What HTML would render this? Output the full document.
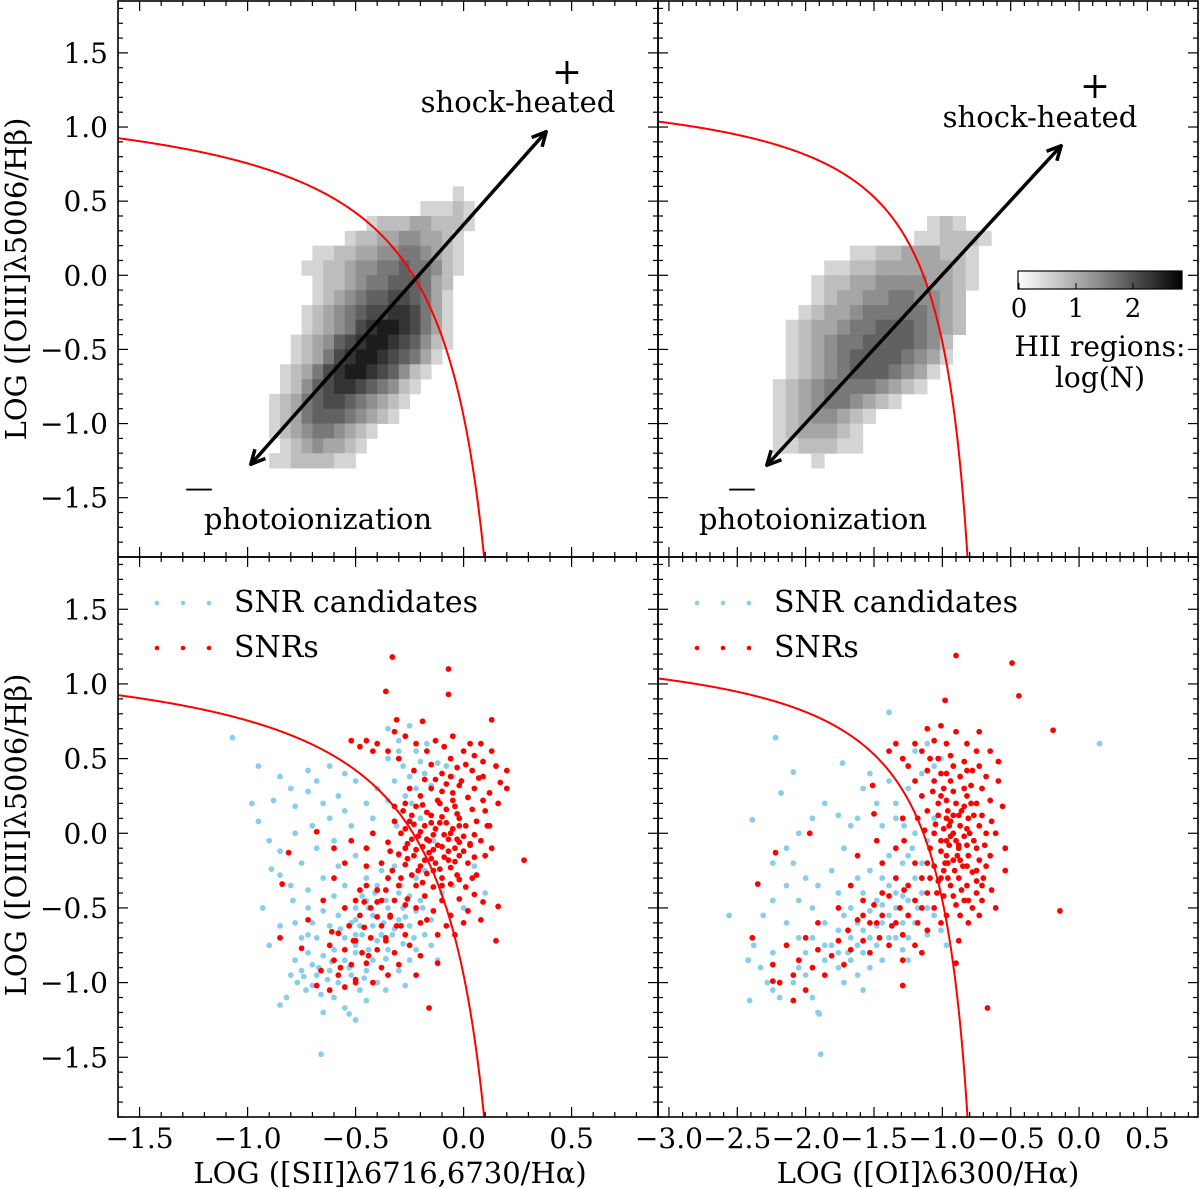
<!DOCTYPE html>
<html><head><meta charset="utf-8">
<style>
html,body{margin:0;padding:0;background:#fff;}
svg{display:block;font-family:"DejaVu Serif","Liberation Serif",serif;}
</style></head>
<body>
<svg id="fig" width="1200" height="1189" viewBox="0 0 1200 1189" xmlns="http://www.w3.org/2000/svg"></svg>
<script>
// ---- data ----
const yMajorTicks = [-1.5,-1.0,-0.5,0.0,0.5,1.0,1.5];
const xMajorS = [-1.5,-1.0,-0.5,0.0,0.5];
const xMajorO = [-3.0,-2.5,-2.0,-1.5,-1.0,-0.5,0.0,0.5];
// HII region 2D histogram (intensity 0-9), rows top->bottom
const hiiS = [
"0000000000000000010",
"0000000000000011121",
"0000000001222332221",
"0000000122334433210",
"0000112233445543210",
"0001122344556554210",
"0000122345566653200",
"0000123456677653100",
"0001234567788753100",
"0001234578998753100",
"0012346789987642100",
"0012357899876531000",
"0123578998764210000",
"0124678876542100000",
"1235677654321000000",
"1235666543210000000",
"1234554321000000000",
"0123433210000000000",
"1122221100000000000"];
const hiiSBins = {x0:-0.9, dx:0.05, yTop:0.6, dy:0.1};
const hiiO = [
"00000000000012100",
"00000000000112221",
"00000011223332210",
"00001122333333210",
"00012233444433210",
"00012334455443200",
"00123345555543200",
"01233455666543200",
"01234556666542000",
"01234566665431000",
"01234566654310000",
"12345555432100000",
"12345543210000000",
"12344321000000000",
"12333210000000000",
"11222110000000000",
"00010000000000000"];
const hiiOBins = {x0:-2.24, dx:0.094, yTop:0.4, dy:0.1};

const candS = [[-0.78,-0.85],[-0.75,-0.92],[-0.72,-0.8],[-0.7,-0.88],[-0.68,-0.95],[-0.8,-0.95],[-0.77,-1.0],[-0.73,-1.05],[-0.66,-1.08],[-0.6,-1.1],[-0.58,-1.0],[-0.62,-0.92],[-0.65,-0.82],[-0.6,-0.78],[-0.55,-0.85],[-0.52,-0.95],[-0.48,-1.05],[-0.45,-0.92],[-0.42,-0.85],[-0.5,-0.75],[-0.55,-0.7],[-0.47,-0.68],[-0.4,-0.72],[-0.35,-0.78],[-0.33,-0.68],[-0.42,-0.62],[-0.37,-0.6],[-0.3,-0.58],[-0.28,-0.5],[-0.35,-0.5],[-0.25,-0.42],[-0.2,-0.45],[-0.3,-0.4],[-0.22,-0.52],[-0.15,-0.58],[-0.18,-0.68],[-0.25,-0.62],[-0.28,-0.74],[-0.62,-0.62],[-0.68,-0.7],[-0.72,-0.68],[-0.82,-1.1],[-0.85,-1.15],[-0.65,-1.2],[-0.55,-1.17],[-0.45,-1.12],[-0.5,-1.25],[-0.66,-1.48],[-0.9,-0.75],[-0.85,-0.62],[-0.78,-0.6],[-0.3,-0.92],[-0.4,-1.0],[-0.25,-0.85],[-0.12,-0.85],[-0.22,-0.78],
[-0.45,-0.45],[-0.5,-0.5],[-0.42,-0.55],[-0.52,-0.6],[-0.47,-0.42],[-0.4,-0.35],[-0.35,-0.3],[-0.32,-0.22],[-0.3,-0.15],[-0.38,-0.25],[-0.45,-0.3],[-0.55,-0.35],[-0.6,-0.42],[-0.65,-0.52],[-0.58,-0.55],[-0.7,-0.6],[-0.75,-0.7],[-0.48,-0.62],[-0.38,-0.68],
[-0.95,0.45],[-0.85,0.38],[-0.8,0.3],[-0.88,0.22],[-0.78,0.18],[-0.72,0.28],[-0.68,0.35],[-0.65,0.2],[-0.62,0.1],[-0.7,0.05],[-0.78,0.0],[-0.9,-0.05],[-0.85,-0.12],[-0.75,-0.2],[-0.68,-0.1],[-0.6,-0.05],[-0.58,0.25],[-0.55,0.15],[-0.52,0.05],[-0.5,-0.15],[-0.45,0.2],[-0.4,0.3],[-0.42,0.1],[-0.35,0.22],[-0.5,0.35],[-0.55,0.4],[-0.62,0.45],[-0.72,0.42],[-0.98,0.2],[-0.95,0.08],[-0.89,-0.24],[-0.85,-0.28],[-0.8,-0.35],[-0.72,-0.38],[-0.65,-0.3],[-0.58,-0.22],
[-0.3,0.55],[-0.35,0.5],[-0.28,0.45],[-0.25,0.38],[-0.32,0.35],[-0.22,0.55],[-0.2,0.48],[-0.18,0.4],[-0.27,0.25],[-0.22,0.3],[-0.15,0.32],[-0.12,0.47],[-0.35,0.7],[-0.3,0.62],[-0.25,0.72],[-0.08,0.45],[-0.05,0.38],[-0.28,0.15],[-0.2,0.1],[-0.14,-0.05],[-0.18,-0.25],[-0.05,-0.35],[0.05,-0.22],[0.1,-0.4],[0.0,-0.5],[-0.1,-0.4],[-1.07,0.64],[-0.53,-1.21],
[-0.5,-0.8],[-0.44,-0.78],[-0.36,-0.84],[-0.53,-0.9],[-0.63,-0.98],[-0.7,-1.02],[-0.57,-0.64],[-0.5,-0.58],[-0.44,-0.5],[-0.36,-0.45],[-0.29,-0.35],[-0.32,-0.64],[-0.27,-0.56],[-0.19,-0.5],[-0.23,-0.7],[-0.15,-0.75],[-0.41,-0.4],[-0.5,-0.68],[-0.61,-0.86],[-0.67,-0.9],[-0.74,-0.96],[-0.46,-0.97],[-0.36,-1.05],[-0.27,-1.02],[-0.31,0.05],[-0.24,0.2],[-0.17,0.6],[-0.27,-0.1],[-0.22,-0.3],[-0.72,-0.5],[-0.79,-0.45],[-0.93,-0.5]];
const snrS = [[-0.28,0.15],[-0.22,0.18],[-0.15,0.12],[-0.08,0.16],[-0.02,0.10],[-0.25,0.08],[-0.18,0.05],[-0.11,0.07],[-0.05,0.03],[0.01,0.05],[-0.29,0.0],[-0.21,-0.02],[-0.14,-0.01],[-0.07,-0.04],[0.0,-0.02],[-0.26,-0.07],[-0.19,-0.09],[-0.12,-0.08],[-0.04,-0.10],[0.03,-0.07],[-0.3,-0.14],[-0.23,-0.15],[-0.16,-0.13],[-0.09,-0.16],[-0.02,-0.15],[-0.27,-0.21],[-0.2,-0.22],[-0.13,-0.2],[-0.06,-0.23],[0.02,-0.2],[-0.24,-0.28],[-0.17,-0.27],[-0.1,-0.3],[-0.03,-0.28],[-0.33,-0.25],[-0.35,-0.06],[-0.32,0.08],
[-0.24,0.12],[-0.17,0.14],[-0.1,0.11],[-0.03,0.13],[-0.27,0.03],[-0.2,0.01],[-0.13,0.03],[-0.06,0.0],[-0.24,-0.04],[-0.16,-0.05],[-0.09,-0.01],[-0.02,-0.06],[-0.22,-0.11],[-0.14,-0.11],[-0.07,-0.12],[0.0,-0.12],[-0.26,-0.17],[-0.18,-0.18],[-0.11,-0.24],[-0.04,-0.19],[-0.21,-0.25],[-0.14,-0.25],
[-0.2,0.25],[-0.12,0.22],[-0.05,0.27],[0.02,0.24],[-0.15,0.3],[-0.08,0.33],[-0.01,0.35],[0.05,0.3],[-0.1,0.4],[-0.03,0.44],[0.04,0.42],[0.07,0.37],[-0.18,0.36],[-0.25,0.3],[0.0,0.55],[-0.06,0.5],[0.05,0.52],[0.08,0.6],[0.09,0.48],[0.12,0.27],[0.1,0.15],[0.12,0.05],[0.08,-0.05],[0.1,-0.15],[0.06,-0.28],[0.13,-0.1],[0.16,0.2],[0.17,0.34],[0.15,0.45],[0.03,0.6],[-0.09,0.58],
[-0.3,0.5],[-0.35,0.55],[-0.42,0.55],[-0.48,0.58],[-0.52,0.62],[-0.22,0.6],[-0.27,0.65],[-0.32,0.68],[-0.4,0.6],[-0.17,0.55],[-0.13,0.62],[-0.05,0.65],[-0.19,0.75],[-0.31,0.76],[-0.07,0.93],[-0.36,0.95],[-0.07,1.1],[-0.33,1.18],[0.13,0.76],[-0.45,0.62],[0.13,0.55],[0.2,0.42],[0.2,0.3],
[0.28,-0.18],[0.16,-0.49],[0.15,-0.72],[-0.12,-0.87],[-0.16,-1.17],
[-0.3,-0.35],[-0.22,-0.35],[-0.14,-0.36],[-0.06,-0.34],[0.01,-0.36],[-0.18,-0.42],[-0.1,-0.45],[-0.02,-0.44],[0.05,-0.41],[-0.26,-0.44],[-0.14,-0.52],[-0.06,-0.55],[0.02,-0.52],[0.09,-0.46],[-0.22,-0.5],[-0.32,-0.45],[-0.08,-0.62],[0.0,-0.6],[0.08,-0.58],
[-0.35,-0.3],[-0.4,-0.38],[-0.45,-0.35],[-0.38,-0.45],[-0.43,-0.5],[-0.5,-0.45],[-0.48,-0.55],[-0.4,-0.56],[-0.34,-0.55],[-0.55,-0.5],[-0.53,-0.62],[-0.46,-0.63],[-0.38,-0.62],[-0.31,-0.62],[-0.58,-0.67],[-0.5,-0.72],[-0.43,-0.7],[-0.36,-0.72],[-0.27,-0.68],[-0.62,-0.75],[-0.55,-0.78],[-0.47,-0.8],[-0.4,-0.78],[-0.32,-0.8],[-0.25,-0.75],[-0.6,-0.85],[-0.52,-0.88],[-0.45,-0.87],[-0.38,-0.9],[-0.3,-0.88],[-0.66,-0.92],[-0.58,-0.95],[-0.5,-0.98],[-0.42,-1.0],[-0.68,-1.02],[-0.62,-1.05],[-0.55,-1.03],[-0.35,-0.95],[-0.2,-0.82],[-0.22,-0.95],[-0.55,-0.2],[-0.6,-0.3],[-0.65,-0.45],[-0.72,-0.58],[-0.6,-0.1],[-0.52,-0.05],[-0.45,-0.1],[-0.42,0.0],[-0.38,-0.2],[-0.45,-0.22],[-0.75,-0.77],[-0.27,-0.48],[-0.2,-0.6],[-0.12,-0.68],[-0.48,-0.38],[-0.85,-0.7],[-0.84,-0.34],[-0.81,-0.13],[-0.68,0.01],
[-0.27,0.2],[-0.19,0.19],[-0.11,0.2],[-0.04,0.18],[0.04,0.16],[-0.23,0.06],[-0.15,0.07],[-0.08,0.07],[-0.02,0.05],[0.06,0.08],[-0.27,-0.1],[-0.17,-0.04],[-0.1,-0.09],[-0.03,-0.04],[0.05,-0.01],[-0.29,-0.3],[-0.19,-0.33],[-0.1,-0.35],[-0.02,-0.31],[0.04,-0.3],[-0.15,-0.17],[-0.07,-0.18],[0.05,-0.16],[-0.23,0.42],[-0.15,0.46],[-0.06,0.38],[0.01,0.46],[0.09,0.38],[-0.1,0.28],[-0.02,0.32],[-0.32,0.18],[-0.34,-0.12],[-0.36,-0.38],[-0.4,-0.46],[-0.34,-0.56],[-0.29,-0.62],[-0.46,-0.46],[-0.51,-0.72],[-0.44,-0.82],[-0.36,-0.7],[-0.57,-0.9],[-0.5,-1.0],[-0.61,-0.66],[-0.17,-0.58],[-0.04,-0.68],[0.03,-0.08],[-0.05,0.22],[-0.13,0.36],[0.09,0.22],[0.11,0.05]];
const candO = [[-1.11,-0.5],[-1.15,-0.4],[-1.20,-0.3],[-1.25,-0.45],[-1.29,-0.6],[-1.34,-0.5],[-1.39,-0.35],[-1.44,-0.48],[-1.48,-0.62],[-1.53,-0.52],[-1.58,-0.4],[-1.62,-0.6],[-1.67,-0.7],[-1.72,-0.55],[-1.76,-0.65],[-1.81,-0.75],[-1.58,-0.8],[-1.48,-0.75],[-1.39,-0.7],[-1.29,-0.78],[-1.67,-0.85],[-1.76,-0.9],[-1.86,-0.85],[-1.62,-0.95],[-1.53,-0.9],[-1.20,-0.6],[-1.11,-0.68],[-1.06,-0.55],[-1.25,-0.15],[-1.15,-0.2],[-1.11,-0.05],[-1.06,0.1],[-1.20,0.0],[-1.29,-0.2],[-1.39,-0.15],[-2.05,-0.7],[-2.14,-0.6],[-2.24,-0.8],[-2.33,-0.9],[-2.28,-1.0],[-2.19,-1.1],[-2.09,-1.0],[-2.0,-0.95],[-1.95,-1.1],[-1.91,-1.2],[-2.42,-0.85],[-2.38,-0.75],[-2.31,-0.55],[-2.24,-0.45],[-2.14,-0.35],[-2.05,-0.45],[-1.95,-0.5],[-1.91,-0.35],[-1.81,-0.25],[-1.72,-0.1],[-1.67,0.05],[-1.76,0.12],[-1.86,0.2],[-1.95,0.1],[-2.05,0.0],[-2.14,-0.1],[-2.24,-0.2],[-2.39,0.09],[-2.56,-0.55],[-2.41,-1.12],[-1.89,-1.48],[-1.90,-1.21],[-2.18,0.27],[-2.22,0.64],[-2.09,0.41],[-1.73,0.47],[-1.39,0.81],[-1.58,0.3],[-1.48,0.2],[-1.39,0.35],[-1.53,0.4],[-1.62,0.1],[-1.44,0.05],[-1.34,0.2],[-1.25,0.3],[-1.15,0.4],[-1.29,0.5],[-1.20,0.55],[-1.11,0.6],[-1.01,0.5],[-1.06,0.45],[-1.34,0.1],[-1.53,-0.25],[-1.62,-0.3],[-1.44,-0.3],[0.15,0.6],[-2.24,-1.05],[-1.72,-1.0],[-1.58,-1.05],[-2.0,-0.8],[-2.09,-0.2],[-2.0,-0.3],[-1.34,-0.4],[-1.44,-0.6],[-1.53,-0.7],[-1.67,-0.5],[-1.76,-0.4],[-1.86,-0.6],[-1.95,-0.7],[-1.25,-0.7],[-1.15,-0.8],[-1.01,-0.65],[-0.97,-0.75],
[-1.34,-0.7],[-1.44,-0.85],[-1.25,-0.85],[-1.58,-0.65],[-1.69,-0.8],[-1.48,-0.45],[-1.29,-0.42],[-1.18,-0.5],[-1.39,-0.55],[-1.62,-0.75],[-1.76,-0.8],[-1.86,-0.75],[-2.05,-0.9],[-1.22,-0.1],[-1.28,0.05]];
const snrO = [[-1.06,0.35],[-0.97,0.4],[-0.87,0.38],[-0.78,0.42],[-0.71,0.3],[-1.01,0.25],[-0.92,0.28],[-0.82,0.25],[-0.75,0.2],[-0.65,0.22],[-1.11,0.15],[-1.03,0.12],[-0.96,0.15],[-0.88,0.12],[-0.81,0.1],[-0.73,0.05],[-0.64,0.08],[-1.13,0.02],[-1.06,0.0],[-0.99,0.03],[-0.92,0.0],[-0.84,-0.02],[-0.77,-0.05],[-0.69,-0.08],[-1.09,-0.1],[-1.01,-0.12],[-0.95,-0.08],[-0.88,-0.1],[-0.81,-0.15],[-0.73,-0.18],[-0.65,-0.15],[-1.06,-0.22],[-0.98,-0.2],[-0.92,-0.18],[-0.85,-0.22],[-0.78,-0.26],[-0.70,-0.3],[-1.03,-0.32],[-0.96,-0.3],[-0.88,-0.3],[-0.82,-0.35],[-0.75,-0.4],[-0.99,-0.42],[-0.92,-0.42],[-0.84,-0.45],[-0.78,-0.5],[-0.71,-0.45],[-0.97,-0.05],[-0.90,-0.05],[-0.94,0.08],[-0.87,0.05],[-0.97,-0.15],[-0.91,-0.25],[-0.84,0.18],[-0.90,0.2],[-0.99,0.3],[-0.79,0.32],[-0.84,0.48],[-0.94,0.52],[-1.03,0.5],[-0.75,0.55],[-0.71,0.12],[-0.68,-0.22],[-0.64,-0.38],[-0.61,0.0],[-0.59,0.35],[-0.56,0.18],[-0.54,-0.1],[-0.54,-0.25],[-0.61,-0.5],[-0.73,-0.55],[-0.87,-0.55],[-0.97,-0.55],[-1.06,-0.5],[-1.11,-0.4],[-1.15,-0.3],[-1.20,-0.2],[-1.18,0.1],[-1.15,0.25],[-1.11,0.42],[-1.20,0.35],[-1.25,0.45],[-1.29,0.5],[-1.15,0.55],[-1.06,0.62],[-0.97,0.6],[-0.82,0.6],[-0.65,0.55],[-0.59,0.48],[-0.73,0.68],[-0.90,0.68],[-1.01,0.72],[-1.11,0.7],[-1.20,0.6],[-1.34,0.6],[-1.39,0.55],[-1.28,-0.05],[-1.29,0.1],[-0.90,1.19],[-0.49,1.14],[-0.44,0.92],[-0.98,0.89],[-0.19,0.69],[-0.14,-0.52],[-0.67,-1.17],[-0.90,-0.87],[-0.88,-0.72],[-1.29,-1.02],[-1.20,-0.45],[-1.28,-0.38],[-1.34,-0.3],[-1.39,-0.42],[-1.31,-0.5],[-1.25,-0.55],[-1.18,-0.6],[-1.44,-0.55],[-1.50,-0.48],[-1.58,-0.45],[-1.37,-0.62],[-1.29,-0.68],[-1.53,-0.6],[-1.62,-0.58],[-1.46,-0.7],[-1.39,-0.75],[-1.69,-0.65],[-1.58,-0.72],[-1.67,-0.78],[-1.76,-0.72],[-1.53,-0.8],[-1.81,-0.82],[-1.91,-0.78],[-1.72,-0.88],[-1.95,-0.9],[-2.05,-0.85],[-1.86,-0.95],[-2.09,-0.95],[-2.19,-1.0],[-2.24,-0.88],[-2.0,-1.05],[-2.14,-0.75],[-2.35,-0.34],[-2.39,-0.7],[-2.22,-0.13],[-1.97,0.0],[-1.50,0.13],[-1.51,0.32],[-1.67,-0.35],[-1.76,-0.5],[-1.44,-0.2],[-1.34,-0.1],[-1.48,-0.05],[-1.62,-0.15],[-1.91,-0.6],[-2.0,-0.7],[-2.24,-0.99],[-2.09,-1.12],[-1.29,-0.85],[-1.20,-0.75],[-1.11,-0.65],[-1.15,-0.8],[-1.01,-0.3],[-0.82,-0.08],[-0.75,-0.32],[-0.95,0.05],[-0.87,-0.18],[-0.80,0.0],[-1.03,0.2],[-0.68,0.38],
[-0.94,-0.02],[-0.88,-0.08],[-0.82,0.03],[-0.97,0.1],[-0.92,0.12],[-0.86,0.15],[-0.79,0.2],[-1.01,-0.05],[-0.96,-0.2],[-0.89,-0.15],[-0.82,-0.22],[-0.75,-0.1],[-1.05,0.06],[-0.99,-0.25],[-0.94,-0.35],[-0.86,-0.38],[-0.81,-0.45],[-1.01,0.4],[-0.92,0.45],[-0.82,0.42],[-0.73,0.45],[-0.68,0.0],[-0.77,0.12],[-1.07,0.28],[-0.94,0.35],[-1.09,-0.3],[-1.04,-0.4],[-0.90,-0.48],[-0.81,-0.6],[-1.01,-0.6],[-0.75,-0.25],[-0.84,0.3],[-1.09,0.5],[-0.97,0.22],[-0.71,-0.35],[-1.11,-0.2],[-1.25,-0.35],[-1.15,-0.5],[-1.34,-0.6],[-1.48,-0.6],[-1.44,-0.4],[-1.58,-0.55]];

// ---- layout ----
const NS = "http://www.w3.org/2000/svg";
const svg = document.getElementById('fig');
function el(tag, attrs, parent){const e=document.createElementNS(NS,tag);for(const k in attrs)e.setAttribute(k,attrs[k]);(parent||svg).appendChild(e);return e;}
const panels = {
  tl:{x0:118,x1:658,y0:1,y1:557,xmin:-1.6,xmax:0.9,ymin:-1.9,ymax:1.85,name:'top-left-panel'},
  tr:{x0:658,x1:1198,y0:1,y1:557,xmin:-3.08,xmax:0.87,ymin:-1.9,ymax:1.85,name:'top-right-panel'},
  bl:{x0:118,x1:658,y0:557,y1:1117,xmin:-1.6,xmax:0.9,ymin:-1.9,ymax:1.85,name:'bottom-left-panel'},
  br:{x0:658,x1:1198,y0:557,y1:1117,xmin:-3.08,xmax:0.87,ymin:-1.9,ymax:1.85,name:'bottom-right-panel'}
};
function sx(p,x){return p.x0+(x-p.xmin)/(p.xmax-p.xmin)*(p.x1-p.x0);}
function sy(p,y){return p.y1-(y-p.ymin)/(p.ymax-p.ymin)*(p.y1-p.y0);}
const fmt = v => (v<0?'\u2212':'')+Math.abs(v).toFixed(1);

const defs = el('defs',{});
for (const k in panels){
  const p=panels[k];
  const cp=el('clipPath',{id:'clip-'+k},defs);
  el('rect',{x:p.x0,y:p.y0,width:p.x1-p.x0,height:p.y1-p.y0},cp);
}
const grad = el('linearGradient',{id:'cbgrad',x1:'0',x2:'1',y1:'0',y2:'0'},defs);
el('stop',{offset:'0',"stop-color":'#ffffff'},grad);
el('stop',{offset:'0.5',"stop-color":'#8a8a8a'},grad);
el('stop',{offset:'1',"stop-color":'#000000'},grad);

function kewS(x){return 0.72/(x-0.32)+1.30;}
function kewO(x){return 0.73/(x+0.59)+1.33;}

function drawHist(p, grid, bins, g){
  grid.forEach((row,j)=>{
    for(let i=0;i<row.length;i++){
      const L=+row[i]; if(!L) continue;
      const xa=bins.x0+i*bins.dx, xb=xa+bins.dx, ya=bins.yTop-j*bins.dy, yb=ya-bins.dy;
      const v=Math.round(212-23*(L-1));
      const r=el('rect',{x:sx(p,xa),y:sy(p,ya),width:sx(p,xb)-sx(p,xa)+0.4,height:sy(p,yb)-sy(p,ya)+0.4,fill:`rgb(${v},${v},${v})`},g);
      
      
    }
  });
}
function drawPts(p, pts, color, g, nm){
  pts.forEach(pt=>{
    const c=el('circle',{cx:sx(p,pt[0]),cy:sy(p,pt[1]),r:2.9,fill:color},g);
    
    
  });
}
function drawCurve(p, f, xmaxC, g){
  let d=''; const n=300;
  for(let i=0;i<=n;i++){
    const x=p.xmin+(xmaxC-p.xmin)*i/n; let y=f(x);
    if(y<p.ymin-0.5){y=p.ymin-0.5;}
    d+=(i?'L':'M')+sx(p,x).toFixed(2)+','+sy(p,y).toFixed(2);
  }
  const c=el('path',{d:d,fill:'none',stroke:'#ff0000','stroke-width':2},g);
  
  
}
function drawTicks(p, xMaj, g){
  const st={stroke:'#000','stroke-width':1.2};
  const xs=[]; for(let v=Math.ceil(p.xmin*10);v<=Math.floor(p.xmax*10);v++) xs.push(v/10);
  const ys=[]; for(let v=Math.ceil(p.ymin*10);v<=Math.floor(p.ymax*10);v++) ys.push(v/10);
  xs.forEach(v=>{const maj=xMaj.some(m=>Math.abs(m-v)<1e-6);const L=maj?10:5;const X=sx(p,v);
    el('line',Object.assign({x1:X,x2:X,y1:p.y1,y2:p.y1-L},st),g);
    el('line',Object.assign({x1:X,x2:X,y1:p.y0,y2:p.y0+L},st),g);});
  ys.forEach(v=>{const maj=yMajorTicks.some(m=>Math.abs(m-v)<1e-6);const L=maj?10:5;const Y=sy(p,v);
    el('line',Object.assign({x1:p.x0,x2:p.x0+L,y1:Y,y2:Y},st),g);
    el('line',Object.assign({x1:p.x1,x2:p.x1-L,y1:Y,y2:Y},st),g);});
}

// ---- draw panels ----
for (const k in panels){
  const p=panels[k];
  const g=el('g',{'clip-path':`url(#clip-${k})`});
  
  
  const isS = (k==='tl'||k==='bl');
  if(k==='tl') drawHist(p,hiiS,hiiSBins,g);
  if(k==='tr') drawHist(p,hiiO,hiiOBins,g);
  if(k==='bl'){drawPts(p,candS,'#87ceeb',g,'snr-candidate-point');drawPts(p,snrS,'#ff0000',g,'snr-point');}
  if(k==='br'){drawPts(p,candO,'#87ceeb',g,'snr-candidate-point');drawPts(p,snrO,'#ff0000',g,'snr-point');}
  if(isS) drawCurve(p,kewS,0.3,g); else drawCurve(p,kewO,-0.6,g);
  const tg=el('g',{});
  
  
  drawTicks(p,isS?xMajorS:xMajorO,tg);
}
for (const k in panels){
  const p=panels[k];
  const f=el('rect',{x:p.x0,y:p.y0,width:p.x1-p.x0,height:p.y1-p.y0,fill:'none',stroke:'#000','stroke-width':1.6});
  
  
}

// tick labels
function txt(s,x,y,size,anchor,name,extra){
  const t=el('text',Object.assign({x:x,y:y,'font-size':size,'text-anchor':anchor||'middle',fill:'#000'},extra||{}));
  t.textContent=s;
  
  
  return t;
}
['tl','bl'].forEach(k=>{const p=panels[k];
  yMajorTicks.forEach(v=>txt(fmt(v),108,sy(p,v)+10,28,'end','y-tick-label'));});
xMajorS.forEach(v=>txt(fmt(v),sx(panels.bl,v),1148,28,'middle','x-tick-label'));
xMajorO.forEach(v=>txt(fmt(v),sx(panels.br,v),1148,28,'middle','x-tick-label'));

// axis titles
txt('LOG ([SII]\u03bb6716,6730/H\u03b1)',390,1183,29,'middle','x-axis-title-sii');
txt('LOG ([OI]\u03bb6300/H\u03b1)',928,1183,29,'middle','x-axis-title-oi');
txt('LOG ([OIII]\u03bb5006/H\u03b2)',0,0,29,'middle','y-axis-title-top',{transform:'translate(26,279) rotate(-90)'});
txt('LOG ([OIII]\u03bb5006/H\u03b2)',0,0,29,'middle','y-axis-title-bottom',{transform:'translate(26,835) rotate(-90)'});

// arrows & annotations (top panels)
const mk=el('marker',{id:'ah',viewBox:'0 0 10 10',refX:'8',refY:'5',markerWidth:'5',markerHeight:'5',orient:'auto-start-reverse'},defs);
el('path',{d:'M1,1 L9,5 L1,9',fill:'none',stroke:'#000','stroke-width':2},mk);
[[252,463,545,133],[768,464,1060,147]].forEach((a,i)=>{
  const l=el('line',{x1:a[0],y1:a[1],x2:a[2],y2:a[3],stroke:'#000','stroke-width':3.5,'marker-start':'url(#ah)','marker-end':'url(#ah)'});
  
  
});
txt('+',567,84,36,'middle','plus-sign');
txt('shock-heated',518,112,29,'middle','shock-heated-label');
txt('\u2014',199,497,28,'middle','minus-sign');
txt('photoionization',318,529,29,'middle','photoionization-label');
txt('+',1095,98,36,'middle','plus-sign');
txt('shock-heated',1040,127,29,'middle','shock-heated-label');
txt('\u2014',742,497,28,'middle','minus-sign');
txt('photoionization',813,529,29,'middle','photoionization-label');

// colorbar
const cb=el('rect',{x:1018,y:271,width:164,height:18,fill:'url(#cbgrad)',stroke:'#000','stroke-width':1.2});


const cbTicks=[0,1,2];
cbTicks.forEach(v=>{const X=1019+v*57;
  el('line',{x1:X,x2:X,y1:289,y2:283,stroke:'#000','stroke-width':1});
  txt(String(v),X,317,26,'middle','colorbar-tick-label');});
txt('HII regions:',1100,356,28,'middle','colorbar-title');
txt('log(N)',1100,387,28,'middle','colorbar-subtitle');

// legends
function legend(x0,yb,color,label,nm){
  const g=el('g',{});
  
  
  [0,26,52].forEach(d=>el('circle',{cx:x0+d,cy:yb,r:2.3,fill:color},g));
  const t=el('text',{x:x0+77,y:yb+9,'font-size':30,fill:'#000'},g);
  t.textContent=label;
}
legend(157,603,'#87ceeb','SNR candidates','legend-entry-snr-candidates');
legend(157,648,'#ff0000','SNRs','legend-entry-snrs');
legend(697,603,'#87ceeb','SNR candidates','legend-entry-snr-candidates');
legend(697,648,'#ff0000','SNRs','legend-entry-snrs');
</script>
</body></html>
